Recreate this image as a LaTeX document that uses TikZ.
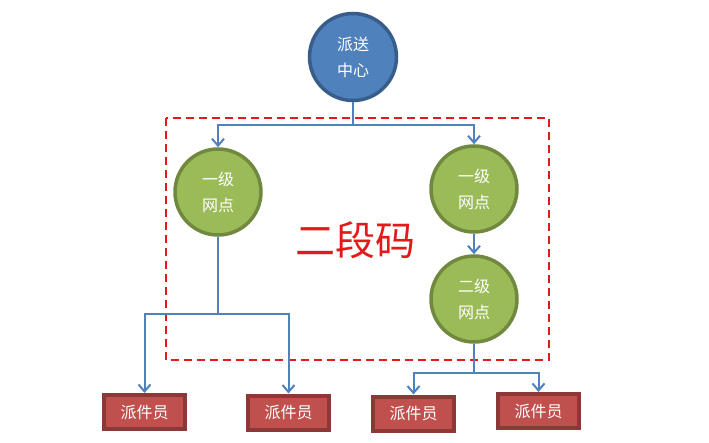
\documentclass[tikz,border=0pt]{standalone}
\usepackage{fontspec}
\setmainfont{Noto Sans CJK SC}
\usetikzlibrary{arrows.meta}
\definecolor{cblue}{HTML}{4F81BD}
\definecolor{cblueb}{HTML}{385D8A}
\definecolor{cgreen}{HTML}{9BBB59}
\definecolor{cgreenb}{HTML}{71893F}
\definecolor{cred}{HTML}{C0504D}
\definecolor{credb}{HTML}{8C3836}
\definecolor{dred}{HTML}{E31A1C}
\tikzset{
  hub/.style={circle, draw=cblueb, fill=cblue, line width=3.5pt, minimum size=87pt, inner sep=0pt, text=white, align=center, font=\fontsize{16}{26}\selectfont},
  site/.style={circle, draw=cgreenb, fill=cgreen, line width=3.5pt, minimum size=86pt, inner sep=0pt, text=white, align=center, font=\fontsize{16}{26}\selectfont},
  courier/.style={rectangle, draw=credb, fill=cred, line width=4pt, minimum width=81pt, minimum height=34pt, inner sep=0pt, text=white, font=\fontsize{16}{18}\selectfont},
  conn/.style={draw=cblue, line width=2pt},
  arr/.style={conn, -{Straight Barb[length=7pt,width=12pt,line width=2pt]}},
}
\begin{document}
\begin{tikzpicture}[x=1pt,y=-1pt]
\useasboundingbox (0,0) rectangle (709,443);
\fill[white] (0,0) rectangle (709,443);
\draw[dred, line width=2pt, dash pattern=on 8pt off 5pt] (166,118) rectangle (549,360);
\node[hub] (top) at (353,57) {派送\\中心};
\node[site] (l1) at (218,192) {一级\\网点};
\node[site] (r1) at (474,189) {一级\\网点};
\node[site] (r2) at (474,299) {二级\\网点};
\node[courier] (b1) at (144.5,412) {派件员};
\node[courier] (b2) at (288.5,412.5) {派件员};
\node[courier] (b3) at (413.5,413.5) {派件员};
\node[courier] (b4) at (538.5,411) {派件员};
\node[text=dred, font=\fontsize{40}{44}\selectfont] (lbl) at (355,240) {二段码};
\coordinate (j0) at (353,125);
\coordinate (j1) at (218,314);
\coordinate (j2) at (474,373);
\draw[conn] (top.south) -- (j0);
\draw[arr] (j0) -| (l1.north);
\draw[arr] (j0) -| (r1.north);
\draw[arr] (r1.south) -- (r2.north);
\draw[conn] (l1.south) -- (j1);
\draw[arr] (j1) -| (b1.north);
\draw[arr] (j1) -| (b2.north);
\draw[conn] (r2.south) -- (j2);
\draw[arr] (j2) -| (b3.north);
\draw[arr] (j2) -| (b4.north);
\end{tikzpicture}
\end{document}
